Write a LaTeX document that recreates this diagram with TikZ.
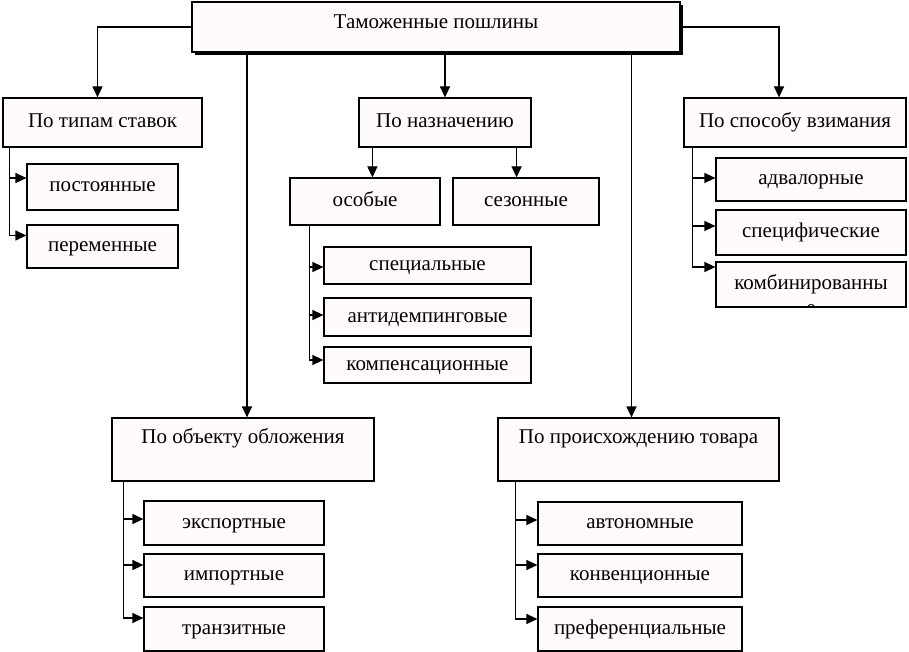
\documentclass[tikz,border=0pt]{standalone}
\usepackage{fontspec}
\setmainfont{Liberation Serif}
\usetikzlibrary{arrows.meta,positioning,shadows}
\colorlet{boxfill}{magenta!2}
\newcommand{\boxfont}{\fontsize{21}{24}\selectfont}

\begin{document}
\begin{tikzpicture}[
    x=1pt,y=-1pt,
    >={Triangle[length=11pt,width=10pt]},
    box/.style = {draw,line width=1.2pt,fill=boxfill,inner sep=0pt,
      font=\boxfont,text height=15pt,text depth=5pt},
    head/.style = {box,drop shadow={shadow xshift=3pt,shadow yshift=-3pt,fill=black,opacity=1}},
    link/.style = {->,line width=1.2pt}
    ]
    \useasboundingbox (0,0) rectangle (909,652);
    % Root
    \node[head,minimum width=488pt,minimum height=50pt,text depth=12pt] (duties) at (436,27) {Таможенные пошлины};
    % Groups
    \node[box,minimum width=199pt,minimum height=49pt] (rates) at (102.5,122.5) {По типам ставок};
    \node[box,minimum width=172pt,minimum height=49pt] (purpose) at (445,122.5) {По назначению};
    \node[box,minimum width=222pt,minimum height=49pt] (levy) at (795,122.5) {По способу взимания};
    \node[box,minimum width=262pt,minimum height=63pt,text depth=27pt] (object) at (243,449.5) {По объекту обложения};
    \node[box,minimum width=281pt,minimum height=63pt,text depth=27pt] (origin) at (638.5,449.5) {По происхождению товара};
    \node[box,minimum width=150pt,minimum height=47pt] (special) at (365,201.5) {особые};
    \node[box,minimum width=146pt,minimum height=47pt] (season) at (526,201.5) {сезонные};
    % Leaves
    \foreach \name/\y/\h/\txt in {const/187/46/постоянные, var/246.5/43/переменные}
      \node[box,minimum width=151pt,minimum height=\h pt] (\name) at (102.5,\y) {\txt};
    \foreach \name/\y/\h/\txt in {spec/265.5/37/специальные, anti/317/38/антидемпинговые, comp/365/36/компенсационные}
      \node[box,minimum width=207pt,minimum height=\h pt] (\name) at (427.5,\y) {\txt};
    \foreach \name/\y/\h/\txt in {adval/179.5/43/адвалорные, specific/232.5/45/специфические, comb/284.5/45/комбинированны}
      \node[box,minimum width=190pt,minimum height=\h pt] (\name) at (811,\y) {\txt};
    \foreach \name/\y/\h/\txt in {export/523/44/экспортные, import/575.5/43/импортные, transit/629/44/транзитные}
      \node[box,minimum width=180pt,minimum height=\h pt] (\name) at (234,\y) {\txt};
    \foreach \name/\y/\h/\txt in {auto/523.5/43/автономные, conv/575.5/43/конвенционные, pref/629/44/преференциальные}
      \node[box,minimum width=204pt,minimum height=\h pt] (\name) at (640,\y) {\txt};
    % Wrapped tail of the last word
    \begin{scope}
      \clip (comb.south west) rectangle (comb.north east);
      \node[anchor=base,font=\boxfont,inner sep=0pt] (combtail) at ([yshift=-30pt]comb.center) {е};
    \end{scope}
    % Root arrows
    \draw[link] (duties.west) -| ([xshift=-5pt]rates.north);
    \draw[link] (duties.east) -| ([xshift=-16pt]levy.north);
    \draw[link] (duties.south -| purpose.north) -- (purpose.north);
    \draw[link] ([xshift=4pt]object.north |- duties.south) -- ([xshift=4pt]object.north);
    \draw[link] ([xshift=-7pt]origin.north |- duties.south) -- ([xshift=-7pt]origin.north);
    \draw[link] ([xshift=14pt]purpose.south west) -- ([xshift=14pt]purpose.south west |- special.north);
    \draw[link] ([xshift=-15pt]purpose.south east) -- ([xshift=-15pt]purpose.south east |- season.north);
    % Branches
    \foreach \n/\d in {const/9, var/11}
      \draw[link] ([xshift=7pt]rates.south west) |- ([yshift=\d pt]\n.west);
    \foreach \n/\d in {spec/-1.5, anti/2, comp/5}
      \draw[link] ([xshift=20pt]special.south west) |- ([yshift=\d pt]\n.west);
    \foreach \n/\d in {adval/1.5, specific/6.5, comb/17.5}
      \draw[link] ([xshift=9pt]levy.south west) |- ([yshift=\d pt]\n.west);
    \foreach \n/\d in {export/4, import/10.5, transit/11}
      \draw[link] ([xshift=12pt]object.south west) |- ([yshift=\d pt]\n.west);
    \foreach \n/\d in {auto/3.5, conv/10.5, pref/10}
      \draw[link] ([xshift=18pt]origin.south west) |- ([yshift=\d pt]\n.west);
\end{tikzpicture}
\end{document}
